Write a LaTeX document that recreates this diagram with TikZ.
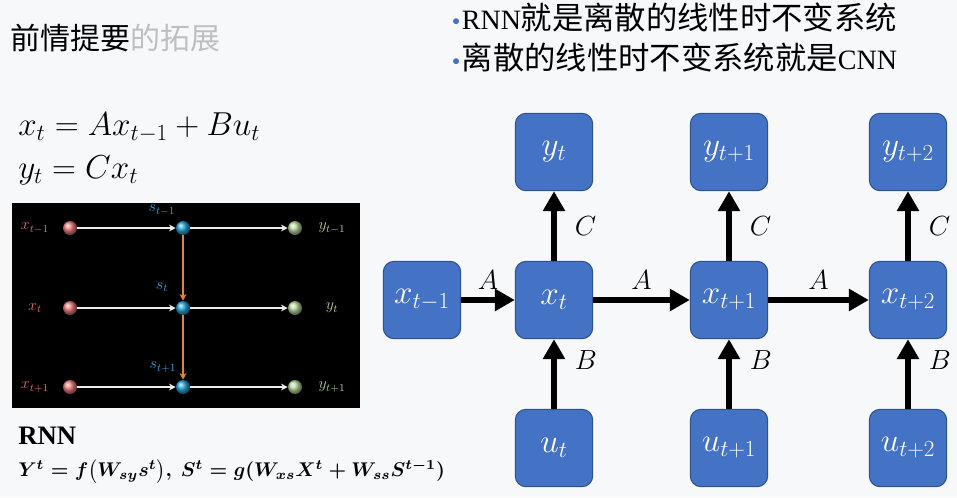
\documentclass[tikz,border=0pt]{standalone}
\usepackage{fontspec}
\setmainfont{Liberation Serif}
\newfontfamily\cjk{Noto Sans CJK SC}
\usetikzlibrary{arrows.meta}
\definecolor{boxblue}{HTML}{4472C4}
\definecolor{boxedge}{HTML}{2F528F}
\definecolor{bulletblue}{HTML}{4472C4}
\definecolor{dotred}{HTML}{F07E7E}
\definecolor{dotblue}{HTML}{22A6DA}
\definecolor{dotgreen}{HTML}{B9DB9E}
\definecolor{labred}{HTML}{E5706E}
\definecolor{labblue}{HTML}{3BA3D6}
\definecolor{labgreen}{HTML}{B6CC98}
\definecolor{sorange}{HTML}{E8832E}
\definecolor{bgcol}{HTML}{F6F8FA}
\newcommand{\rnnformula}{%
  \resizebox{320pt}{!}{\boldmath
  $Y^t = f\bigl(W_{sy}s^t\bigr),\ S^t = g(W_{xs}X^t + W_{ss}S^{t-1})$}}
\newcommand{\bluedot}{\textcolor{bulletblue}{\raisebox{0.3ex}{\scalebox{0.55}{$\bullet$}}}\hspace{1.5pt}}
\tikzset{
  state/.style={draw=boxedge, line width=0.8pt, fill=boxblue, rounded corners=8pt,
    minimum size=58pt, inner sep=0pt, text=white, font=\fontsize{24}{28}\selectfont},
  flow/.style={line width=4.5pt, -{Triangle[length=15pt,width=16pt]}},
  wt/.style={font=\fontsize{22}{26}\selectfont},
  dot/.style={circle, minimum size=10.5pt, inner sep=0pt},
  wflow/.style={white!85!gray, line width=1.2pt, -{Stealth[length=5pt,width=5pt]}},
  oflow/.style={sorange, line width=1.4pt, -{Stealth[length=5pt,width=5pt]}},
  small/.style={font=\fontsize{12}{14}\selectfont},
}
\begin{document}
\begin{tikzpicture}[x=0.75pt, y=-0.75pt]
\useasboundingbox (0,0) rectangle (957,497);
\fill[bgcol] (0,0) rectangle (957,497);

% title and bullets
\node[anchor=west, inner sep=0pt] (title) at (10,38)
  {\cjk\fontsize{22.5}{26}\selectfont 前情提要\textcolor{black!25}{的拓展}};
\node[anchor=west, inner sep=0pt] (bul1) at (452,17)
  {\fontsize{21}{24}\selectfont\bluedot RNN{\cjk\fontsize{23.5}{26}\selectfont 就是离散的线性时不变系统}};
\node[anchor=west, inner sep=0pt] (bul2) at (452,57)
  {\fontsize{21}{24}\selectfont\bluedot{\cjk\fontsize{23.5}{26}\selectfont 离散的线性时不变系统就是}CNN};

% state equations
\node[anchor=west, inner sep=0pt] (eq1) at (18,128) {\fontsize{24.5}{28}\selectfont$x_t = Ax_{t-1} + Bu_t$};
\node[anchor=west, inner sep=0pt] (eq2) at (18,170) {\fontsize{24.5}{28}\selectfont$y_t = Cx_t$};

% rnn panel
\fill[black] (12,203) rectangle (360,408);
\node[dot, ball color=dotred] (r1) at (70,228) {};
\node[dot, ball color=dotred] (r2) at (70,308) {};
\node[dot, ball color=dotred] (r3) at (70,387) {};
\node[dot, ball color=dotblue] (b1) at (183,228) {};
\node[dot, ball color=dotblue] (b2) at (183,308) {};
\node[dot, ball color=dotblue] (b3) at (183,387) {};
\node[dot, ball color=dotgreen] (g1) at (295,228) {};
\node[dot, ball color=dotgreen] (g2) at (295,308) {};
\node[dot, ball color=dotgreen] (g3) at (295,387) {};
\node[small, labred] (lx1) at (35,228) {$x_{t-1}$};
\node[small, labred] (lx2) at (35,308) {$x_t$};
\node[small, labred] (lx3) at (35,387) {$x_{t+1}$};
\node[small, labblue] (ls1) at (162,210) {$s_{t-1}$};
\node[small, labblue] (ls2) at (162,287) {$s_t$};
\node[small, labblue] (ls3) at (163,367) {$s_{t+1}$};
\node[small, labgreen] (ly1) at (332,228) {$y_{t-1}$};
\node[small, labgreen] (ly2) at (332,308) {$y_t$};
\node[small, labgreen] (ly3) at (332,387) {$y_{t+1}$};
\draw[wflow] (r1) -- (b1);
\draw[wflow] (r2) -- (b2);
\draw[wflow] (r3) -- (b3);
\draw[wflow] (b1) -- (g1);
\draw[wflow] (b2) -- (g2);
\draw[wflow] (b3) -- (g3);
\draw[oflow] (b1) -- (b2);
\draw[oflow] (b2) -- (b3);

\node[anchor=west, inner sep=0pt] (rnn) at (18,436) {\fontsize{20}{24}\selectfont\bfseries RNN};
\node[anchor=west, inner sep=0pt] (rnneq) at (18,472) {\rnnformula};

% state space chain
\node[state] (xm) at (422,300) {$x_{t-1}$};
\node[state] (x0) at (554,300) {$x_t$};
\node[state] (x1) at (729,300) {$x_{t+1}$};
\node[state] (x2) at (908,300) {$x_{t+2}$};
\node[state] (y0) at (554,152) {$y_t$};
\node[state] (y1) at (729,152) {$y_{t+1}$};
\node[state] (y2) at (908,152) {$y_{t+2}$};
\node[state] (u0) at (554,448) {$u_t$};
\node[state] (u1) at (729,448) {$u_{t+1}$};
\node[state] (u2) at (908,448) {$u_{t+2}$};

\draw[flow] (xm) -- node[wt, above=2pt] {$A$} (x0);
\draw[flow] (x0) -- node[wt, above=2pt] {$A$} (x1);
\draw[flow] (x1) -- node[wt, above=2pt] {$A$} (x2);
\draw[flow] (x0) -- node[wt, right=10pt] {$C$} (y0);
\draw[flow] (x1) -- node[wt, right=10pt] {$C$} (y1);
\draw[flow] (x2) -- node[wt, right=10pt] {$C$} (y2);
\draw[flow] (u0) -- node[wt, right=10pt, pos=0.7] {$B$} (x0);
\draw[flow] (u1) -- node[wt, right=10pt, pos=0.7] {$B$} (x1);
\draw[flow] (u2) -- node[wt, right=10pt, pos=0.7] {$B$} (x2);
\end{tikzpicture}
\end{document}
